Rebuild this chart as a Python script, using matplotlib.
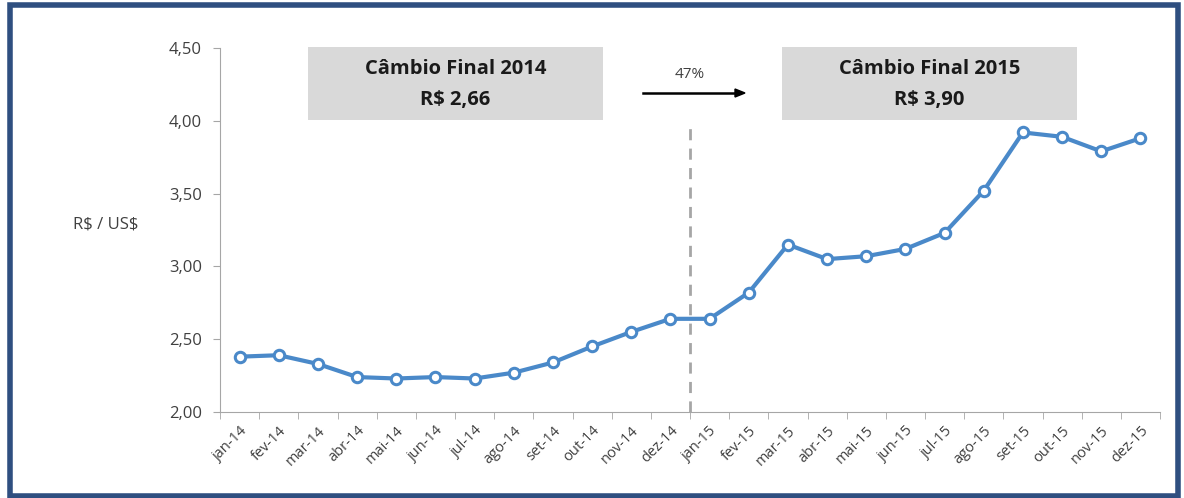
import matplotlib.pyplot as plt
from matplotlib.patches import Rectangle
from matplotlib.ticker import FuncFormatter

meses = ['jan-14', 'fev-14', 'mar-14', 'abr-14', 'mai-14', 'jun-14', 'jul-14', 'ago-14',
         'set-14', 'out-14', 'nov-14', 'dez-14', 'jan-15', 'fev-15', 'mar-15', 'abr-15',
         'mai-15', 'jun-15', 'jul-15', 'ago-15', 'set-15', 'out-15', 'nov-15', 'dez-15']
cambio = [2.38, 2.39, 2.33, 2.24, 2.23, 2.24, 2.23, 2.27, 2.34, 2.45, 2.55, 2.64,
          2.64, 2.82, 3.15, 3.05, 3.07, 3.12, 3.23, 3.52, 3.92, 3.89, 3.79, 3.88]
caixas = [('Câmbio Final 2014', 'R\\$ 2,66'), ('Câmbio Final 2015', 'R\\$ 3,90')]
variacao = '47%'

plt.rcParams['font.family'] = ['Open Sans', 'DejaVu Sans']

W, H = 1184, 498
fig = plt.figure(figsize=(W / 100, H / 100), dpi=100)
ax = fig.add_axes([220 / W, 1 - 412 / H, 940 / W, 364 / H])

azul = '#4a89c9'
cinza_txt = '#404040'
x = [i + 0.5 for i in range(len(meses))]
ax.plot(x, cambio, color=azul, lw=3, marker='o', ms=7.5, mfc='white', mec=azul, mew=2.2,
        zorder=3)

# linha tracejada entre dez-14 e jan-15
ax.plot([12, 12], [2.0, 3.97], color='#a6a6a6', lw=2, ls=(0, (4, 3)), zorder=2)

ax.set_xlim(0, len(meses))
ax.set_ylim(2.0, 4.5)
ax.set_yticks([2.0, 2.5, 3.0, 3.5, 4.0, 4.5])
ax.yaxis.set_major_formatter(FuncFormatter(lambda v, p: f'{v:.2f}'.replace('.', ',')))
ax.set_xticks(x)
ax.set_xticklabels(meses, rotation=45, ha='right', rotation_mode='anchor')
ax.set_xticks(range(len(meses) + 1), minor=True)
ax.tick_params(axis='x', which='major', length=0, pad=8, labelsize=10.5, labelcolor=cinza_txt)
ax.tick_params(axis='x', which='minor', length=5, color='#a6a6a6', direction='out')
ax.tick_params(axis='y', length=5, color='#a6a6a6', labelsize=12, labelcolor=cinza_txt, pad=8)
for s in ['top', 'right']:
    ax.spines[s].set_visible(False)
for s in ['left', 'bottom']:
    ax.spines[s].set_color('#a6a6a6')
ax.text(-0.122, 0.514, 'R\\$ / US\\$', transform=ax.transAxes, ha='center', va='center',
        fontsize=12, color=cinza_txt)

# caixas cinzas com os valores finais
for (l1, l2), x0 in zip(caixas, [308, 782]):
    fig.add_artist(Rectangle((x0 / W, 1 - 120 / H), 295 / W, 73 / H,
                             transform=fig.transFigure, facecolor='#d9d9d9', edgecolor='none'))
    cx = (x0 + 147.5) / W
    fig.text(cx, 1 - 69 / H, l1, ha='center', va='center', fontsize=14.5,
             fontweight='bold', color='#1a1a1a')
    fig.text(cx, 1 - 100 / H, l2, ha='center', va='center', fontsize=14.5,
             fontweight='bold', color='#1a1a1a')

fig.add_artist(plt.Line2D([643 / W, 735 / W], [1 - 93 / H] * 2, color='black', lw=1.8,
                          transform=fig.transFigure))
fig.add_artist(plt.Polygon([[735 / W, 1 - 89 / H], [745 / W, 1 - 93 / H], [735 / W, 1 - 97 / H]],
                           closed=True, color='black', transform=fig.transFigure))
fig.text(690 / W, 1 - 75 / H, variacao, ha='center', va='center', fontsize=11, color=cinza_txt)

# moldura azul
fig.add_artist(Rectangle((10 / W, 2 / H), 1168 / W, 491 / H, transform=fig.transFigure,
                         fill=False, edgecolor='#2f4f80', lw=4))

fig.savefig('out.png', dpi=100)
